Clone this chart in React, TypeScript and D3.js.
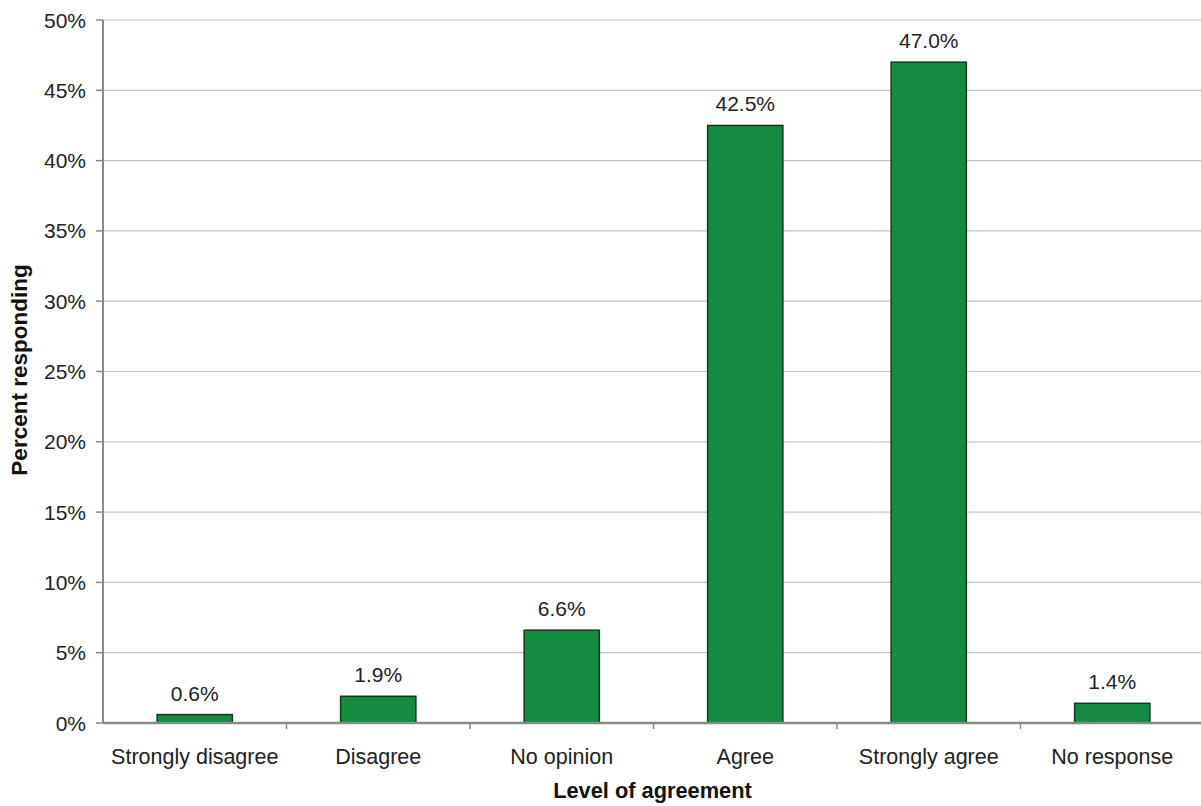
import React from "react";
import * as d3 from "d3";

const categories = ["Strongly disagree", "Disagree", "No opinion", "Agree", "Strongly agree", "No response"];
const values = [0.6, 1.9, 6.6, 42.5, 47.0, 1.4];
const yTicks = [0, 5, 10, 15, 20, 25, 30, 35, 40, 45, 50];

const W = 1201;
const H = 806;
const left = 103;
const right = 1204;
const top = 20;
const bottom = 723;
const font = "Liberation Sans, Arial, Helvetica, sans-serif";

export default function App() {
  const x = d3.scaleBand<string>().domain(categories).range([left, right]).paddingInner(0.59).paddingOuter(0.295);
  const y = d3.scaleLinear().domain([0, 50]).range([bottom, top]);
  const step = x.step();
  return (
    <svg width={W} height={H} style={{ position: "fixed", left: 0, top: 0, background: "#fff" }} fontFamily={font}>
      <rect x={0} y={0} width={W} height={H} fill="#fff" />
      {yTicks.map((t) => (
        <g key={t}>
          {t > 0 && <line x1={left} x2={right} y1={y(t)} y2={y(t)} stroke="#c4c4c4" strokeWidth={1.2} />}
          <line x1={left - 7} x2={left} y1={y(t)} y2={y(t)} stroke="#8a8a8a" strokeWidth={1.5} />
          <text x={86} y={y(t)} dy="0.36em" textAnchor="end" fontSize={21} fill="#222">{t}%</text>
        </g>
      ))}
      {categories.map((c, i) => (
        <g key={c}>
          <rect
            x={x(c)!}
            y={y(values[i])}
            width={x.bandwidth()}
            height={y(0) - y(values[i])}
            fill="#158a41"
            stroke="#0c3b1d"
            strokeWidth={1.5}
          />
          <text x={x(c)! + x.bandwidth() / 2} y={y(values[i]) - 14} textAnchor="middle" fontSize={21} fill="#222">
            {values[i].toFixed(1)}%
          </text>
          <text x={x(c)! + x.bandwidth() / 2} y={764} textAnchor="middle" fontSize={21.5} fill="#222">
            {c}
          </text>
          {i > 0 && (
            <line x1={left + step * i} x2={left + step * i} y1={bottom} y2={bottom + 6} stroke="#8a8a8a" strokeWidth={1.5} />
          )}
        </g>
      ))}
      <line x1={left} x2={left} y1={top} y2={bottom} stroke="#8a8a8a" strokeWidth={2} />
      <line x1={left} x2={right} y1={bottom} y2={bottom} stroke="#8a8a8a" strokeWidth={2.5} />
      <text x={(left + right) / 2 - 1} y={798} textAnchor="middle" fontSize={21.8} fontWeight="bold" fill="#111">
        Level of agreement
      </text>
      <text
        transform={`translate(27, 370) rotate(-90)`}
        textAnchor="middle"
        fontSize={22.5}
        fontWeight="bold"
        fill="#111"
      >
        Percent responding
      </text>
    </svg>
  );
}
